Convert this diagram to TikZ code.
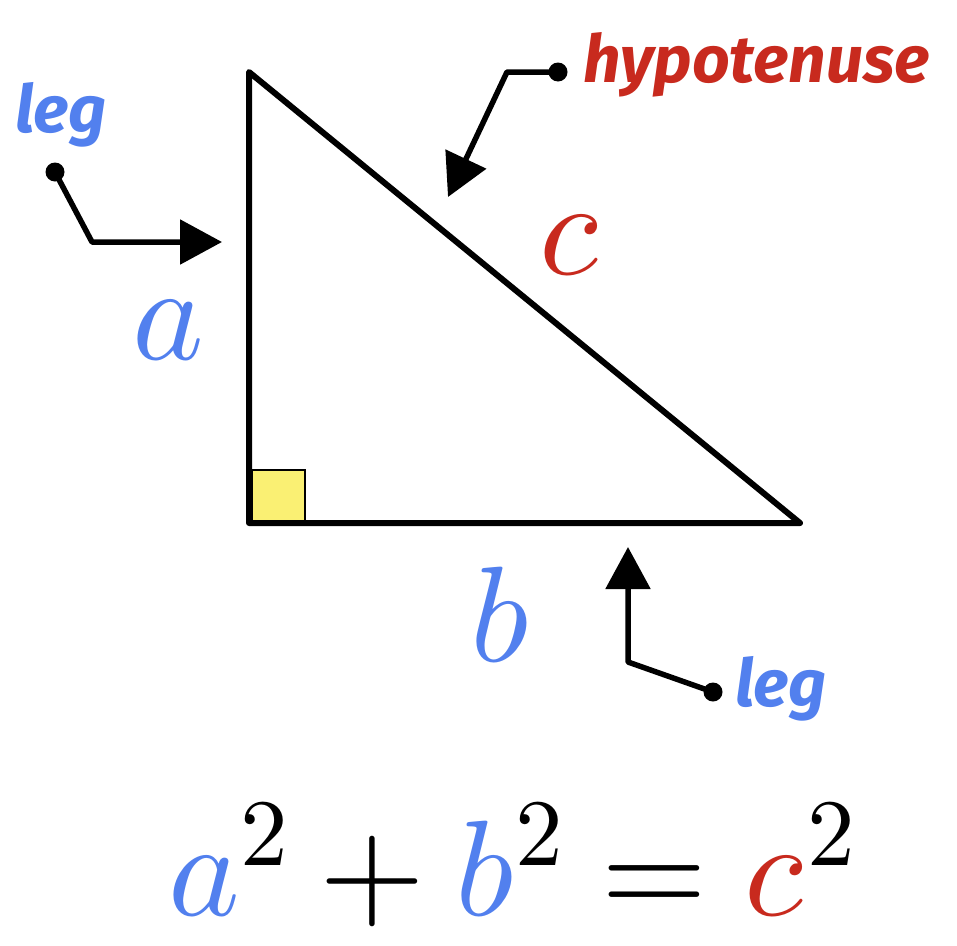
\documentclass[tikz,border=0pt]{standalone}
\usepackage{fontspec}
\usepackage{unicode-math}
\setsansfont{Fira Sans}
\usetikzlibrary{arrows.meta}
\definecolor{legblue}{RGB}{82,128,238}
\definecolor{hypred}{RGB}{200,42,30}
\definecolor{sqyellow}{RGB}{250,240,115}
\newcommand{\bigsym}{\fontsize{136}{136}\selectfont}

\begin{document}
\begin{tikzpicture}[x=1pt,y=-1pt,
  pointer/.style={line width=5.5pt,line join=round,-{Triangle[length=42pt,width=44pt]}},
  dot/.style={circle,fill=black,inner sep=0pt,minimum size=19pt},
  callout/.style={inner sep=0pt,font=\fontsize{66}{66}\selectfont\sffamily\bfseries\itshape},
  sidename/.style={inner sep=0pt,font=\bigsym}]
\useasboundingbox (0,0) rectangle (957,945);
% ---- triangle with right angle mark ----
\coordinate (top) at (249,72);
\coordinate (corner) at (249,523);
\coordinate (right) at (800,523);
\draw[fill=sqyellow,line width=2pt] (252,470) rectangle (305,521);
\draw[line width=6pt,line join=round] (top) -- (corner) -- (right) -- cycle;
% side names
\node[sidename,text=legblue] (sidea) at (168,330) {$a$};
\node[sidename,text=legblue] (sideb) at (501,615) {$b$};
\node[sidename,text=hypred] (sidec) at (571,245) {$c$};
% ---- callouts ----
\node[dot] (legAdot) at (55,172) {};
\coordinate (legAbend) at (92,242);
\coordinate (legAtip) at (222,242);
\draw[pointer] (legAdot.center) -- (legAbend) -- (legAtip);
\node[callout,text=legblue,anchor=base west] (legAtext) at (15,132) {leg};
\node[dot] (hypdot) at (558,72) {};
\coordinate (hypbend) at (507,72);
\coordinate (hyptip) at (448,197);
\draw[pointer] (hypdot.center) -- (hypbend) -- (hyptip);
\node[callout,text=hypred,anchor=base west] (hyptext) at (583,82) {hypotenuse};
\node[dot] (legBdot) at (713,692) {};
\coordinate (legBbend) at (628,662);
\coordinate (legBtip) at (628,547);
\draw[pointer] (legBdot.center) -- (legBbend) -- (legBtip);
\node[callout,text=legblue,anchor=base west] (legBtext) at (735,706) {leg};
% ---- the law ----
\node[sidename,anchor=base] (law) at (512,915) {$\textcolor{legblue}{a}^2+\textcolor{legblue}{b}^2=\textcolor{hypred}{c}^2$};
\end{tikzpicture}
\end{document}
